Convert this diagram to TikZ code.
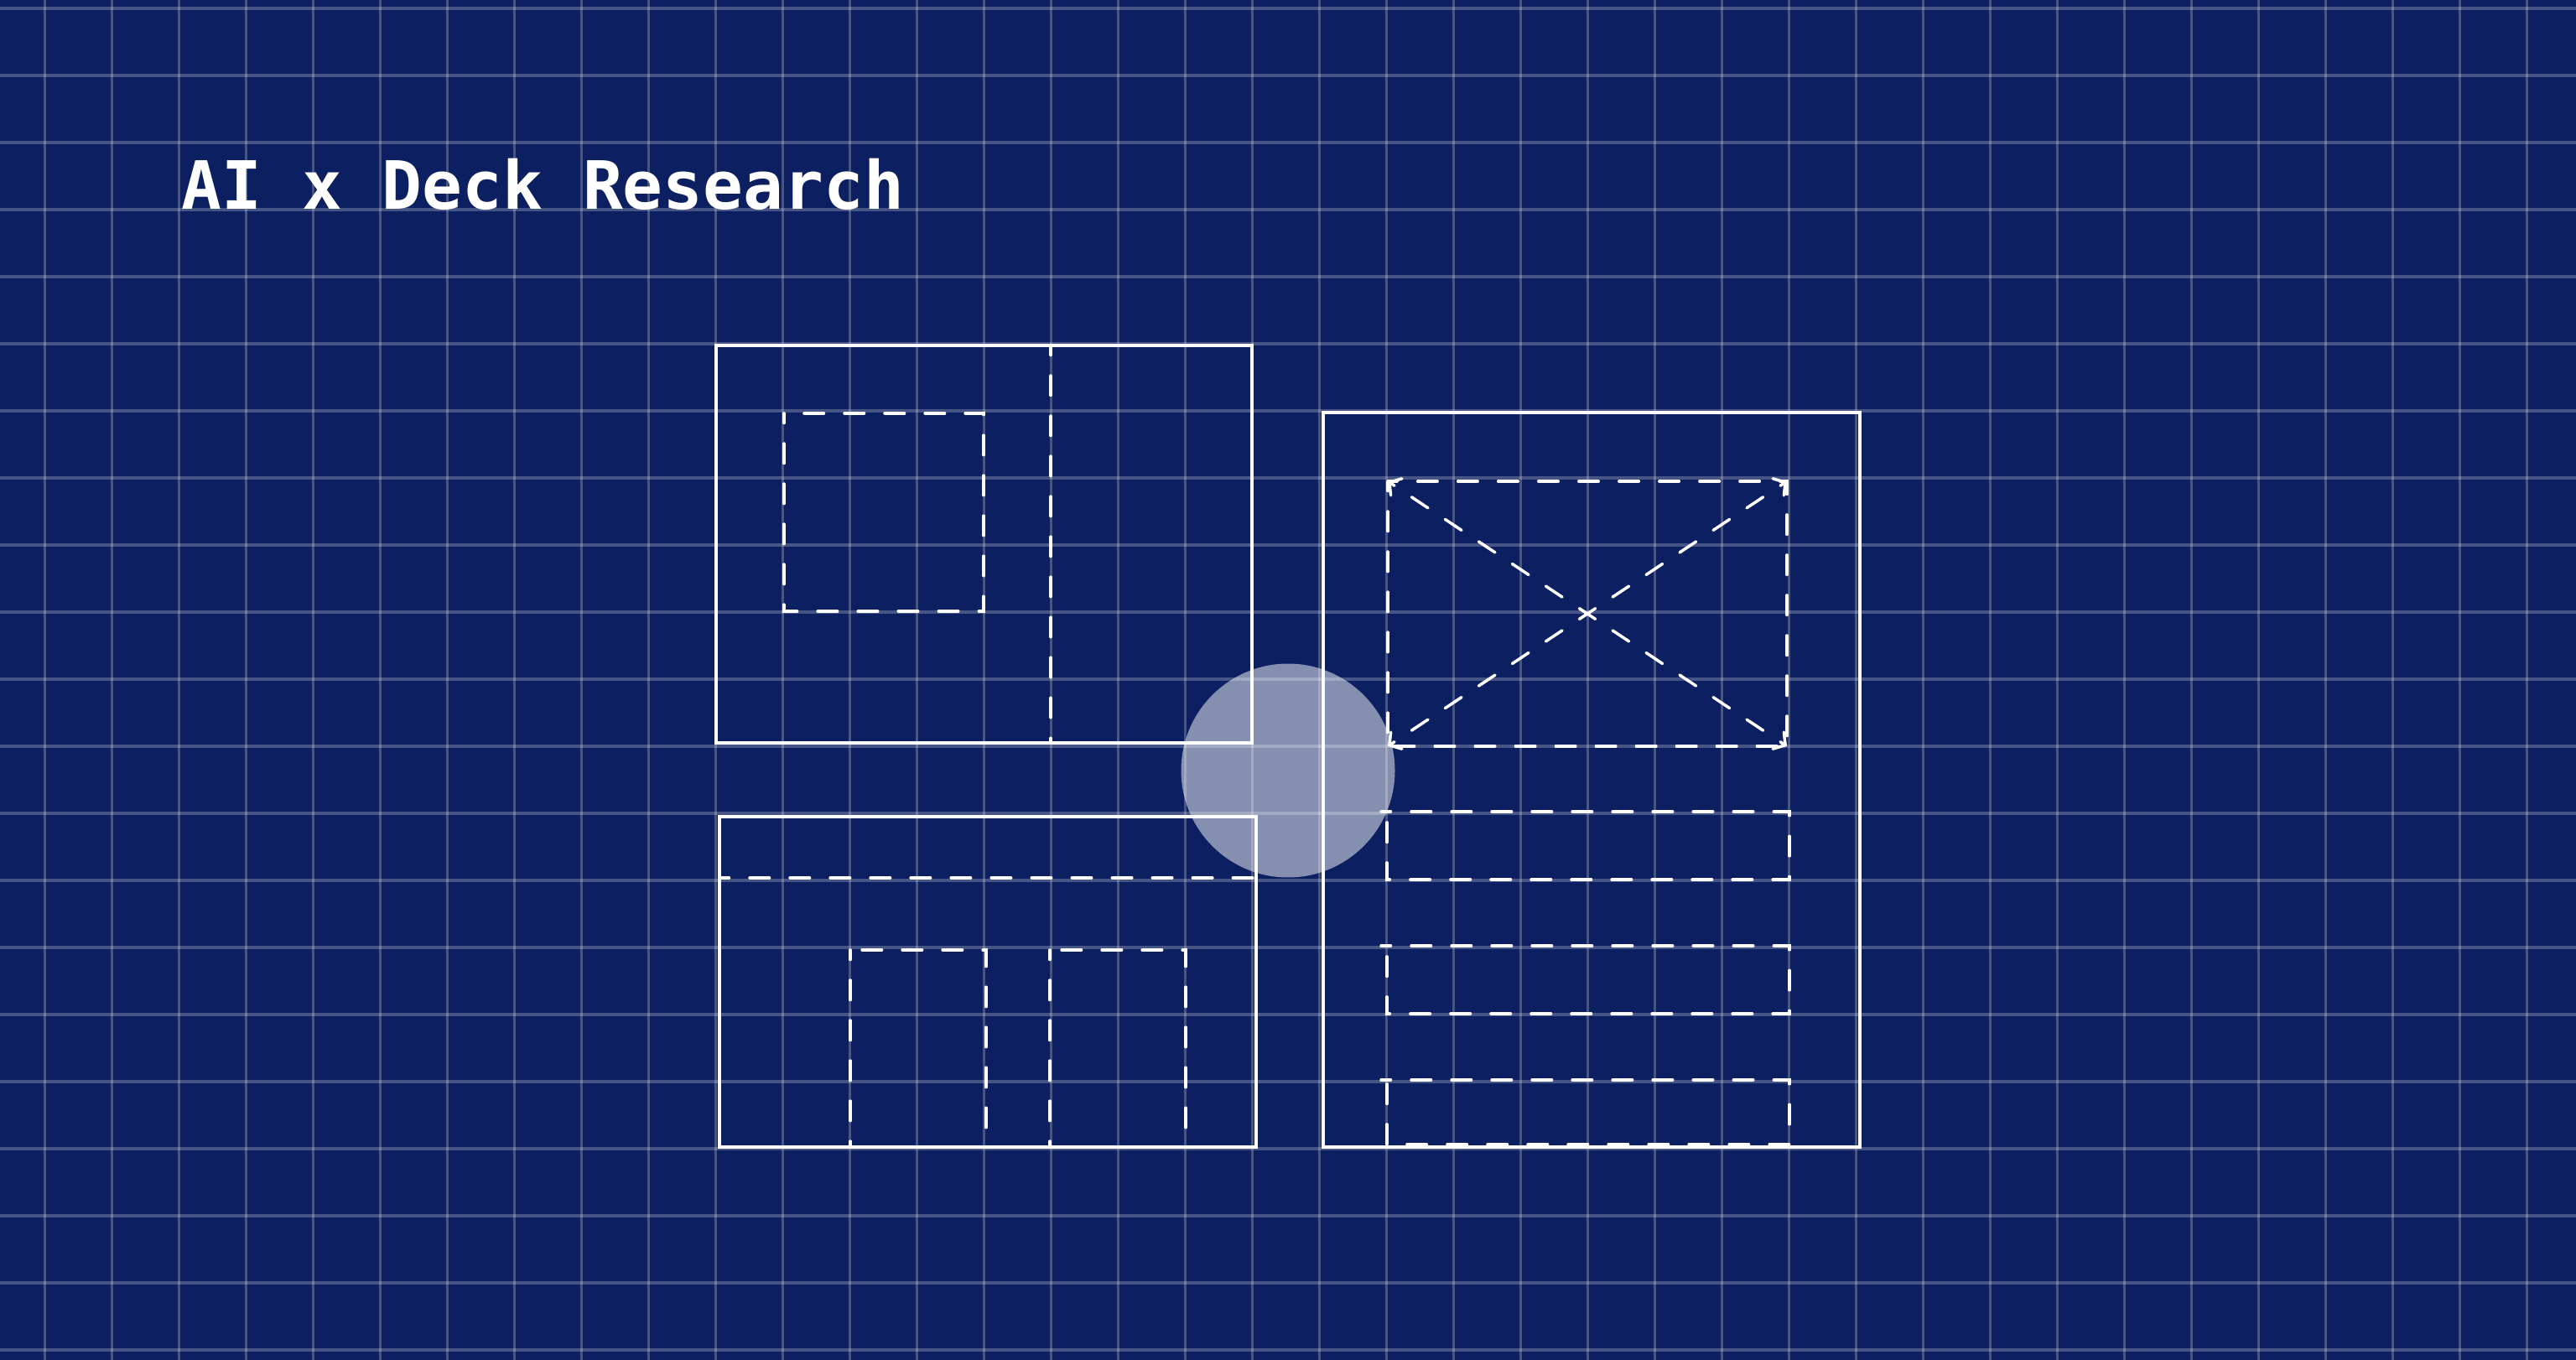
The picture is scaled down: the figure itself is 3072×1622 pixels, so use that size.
\documentclass[tikz,border=0pt]{standalone}
\usepackage{fontspec}
\newfontfamily\titlefont{DejaVu Sans Mono}
\usetikzlibrary{arrows.meta}
\definecolor{bg}{RGB}{12,31,96}
\begin{document}
\begin{tikzpicture}[x=0.01cm,y=-0.01cm,
  solidline/.style={draw=white,line width=0.035cm},
  dashline/.style={draw=white,line width=0.035cm,line cap=round,dash pattern=on 0.235cm off 0.245cm,dash phase=0.12cm},
  gridline/.style={draw=white,draw opacity=0.24,line width=0.031cm},
  tipline/.style={dashline,-{Straight Barb[length=0.1cm,width=0.24cm,line cap=round]}}]
\useasboundingbox (0,0) rectangle (3072,1622);
\fill[bg] (0,0) rectangle (3072,1622);
\foreach \i in {0,...,37} \draw[gridline] ({53.33+80*\i},0) -- ({53.33+80*\i},1622);
\foreach \j in {0,...,20} \draw[gridline] (0,{10+80*\j}) -- (3072,{10+80*\j});
\node[anchor=base west,inner sep=0pt,text=white,font=\titlefont\bfseries\fontsize{22.6pt}{27pt}\selectfont] (title) at (216,250) {AI x Deck Research};
% top-left card
\draw[solidline] (854,412) rectangle (1493,886);
\draw[dashline] (935,493) rectangle (1173,729);
\draw[dashline] (1253,412) -- (1253,886);
% bottom-left card
\draw[solidline] (858,974) rectangle (1498,1368);
\draw[dashline] (858,1047) -- (1498,1047);
\draw[dashline] (1014,1133) rectangle (1176,1368);
\draw[dashline] (1252,1133) rectangle (1414,1368);
% right card
\draw[solidline] (1578,492) rectangle (2218,1368);
\draw[dashline] (1655,574) rectangle (2131,890);
\coordinate (c) at (1893,732);
\coordinate (tl) at (1655,574);
\coordinate (tr) at (2131,574);
\coordinate (bl) at (1655,890);
\coordinate (br) at (2131,890);
\draw[tipline] (c) -- (tl);
\draw[tipline] (c) -- (tr);
\draw[tipline] (c) -- (bl);
\draw[tipline] (c) -- (br);
\draw[dashline] (1647,968) -- (2134,968) -- (2134,1049) -- (1654,1049) -- (1654,968);
\draw[dashline] (1647,1128) -- (2134,1128) -- (2134,1209) -- (1654,1209) -- (1654,1128);
\draw[dashline] (1647,1288) -- (2134,1288) -- (2134,1365) -- (1654,1365) -- (1654,1288);
% circle
\fill[white,fill opacity=0.5] (1536,919) circle[radius=127.5];
\end{tikzpicture}
\end{document}
